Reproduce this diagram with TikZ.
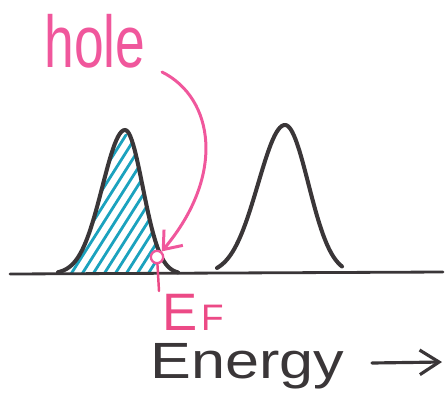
\documentclass[tikz,border=0pt]{standalone}
\usepackage{fontspec}
\setmainfont{Liberation Sans}
\usepackage{tikz}
\usetikzlibrary{positioning,arrows.meta,calc}
\definecolor{ink}     {HTML}{3A3638}
\definecolor{holepink}{HTML}{F0579C}
\definecolor{fermi}   {HTML}{EC4A86}
\definecolor{teal}    {HTML}{1BA2BE}
\tikzset{
  >=stealth,
  % --- curves
  axis/.style  = {draw=ink, line width=1.6pt, line cap=round},
  peak/.style  = {draw=ink, line width=2.3pt, line cap=round, line join=round},
  hatch/.style = {draw=teal, line width=1.6pt, line cap=round},
  % --- marks and labels
  pointer/.style = {draw=holepink, line width=1.7pt, line cap=round,
                    -{Straight Barb[length=9pt,width=14pt,line width=1.7pt]}},
  holedot/.style = {circle, draw=holepink, fill=white, line width=1.3pt,
                    minimum size=7pt, inner sep=0pt},
  tick/.style    = {draw=fermi, line width=1.4pt, line cap=round},
  handlbl/.style = {inner sep=0pt, anchor=base west},
  gohead/.style  = {draw=ink, line width=1.8pt, line cap=round,
                    -{Straight Barb[length=11pt,width=14pt,line width=1.8pt]}},
}
\begin{document}
\begin{tikzpicture}[x=0.02cm, y=-0.02cm]
  \useasboundingbox (0,0) rectangle (445,409);

  % --- filled band, hatched up to the Fermi level
  \begin{scope}
    \clip plot[domain=58:125, samples=40] (\x, {274-144*exp(-(((\x-125)/32)^2))})
          -- plot[domain=125:158, samples=25] (\x, {274-144*exp(-(((\x-125)/25)^2))})
          -- (158,274) -- (58,274) -- cycle;
    \foreach \i in {0,...,16}
      \draw[hatch] ({20+11*\i},285) -- ++(95,-150);
  \end{scope}

  % --- the two bands
  \draw[peak] plot[domain=58:125, samples=40] (\x, {274-144*exp(-(((\x-125)/32)^2))})
        -- plot[domain=125:178, samples=40] (\x, {274-144*exp(-(((\x-125)/25)^2))});
  \draw[peak] plot[domain=217:285, samples=40] (\x, {274-149*exp(-(((\x-285)/38)^2))})
        -- plot[domain=285:342, samples=40] (\x, {274-149*exp(-(((\x-285)/33)^2))});
  \draw[axis] (10,274) -- (443,272);

  % --- hole at E_F
  \node[holedot] (hole) at (157,257) {};
  \coordinate (tickend) at (159,291);
  \draw[tick] (hole) -- (tickend);
  \node[handlbl, text=fermi] (ef) at (162,330)
    {\fontsize{30}{30}\selectfont E\kern2pt\fontsize{21}{21}\selectfont F};

  \node[handlbl, text=holepink] (holelabel) at (44,67)
    {\fontsize{38}{38}\selectfont\scalebox{0.8}[1.1]{hole}};
  \coordinate (holetail) at (162,72);
  \draw[pointer] (holetail) .. controls (214,98) and (226,175) .. (hole);

  % --- energy axis label
  \node[handlbl, text=ink] (energy) at (150,378)
    {\fontsize{29}{29}\selectfont\scalebox{1.2}[1]{Energy}};
  \coordinate (gofrom) at (372,363);
  \coordinate (goto) at (442,362);
  \draw[gohead] (gofrom) -- (goto);
\end{tikzpicture}
\end{document}
